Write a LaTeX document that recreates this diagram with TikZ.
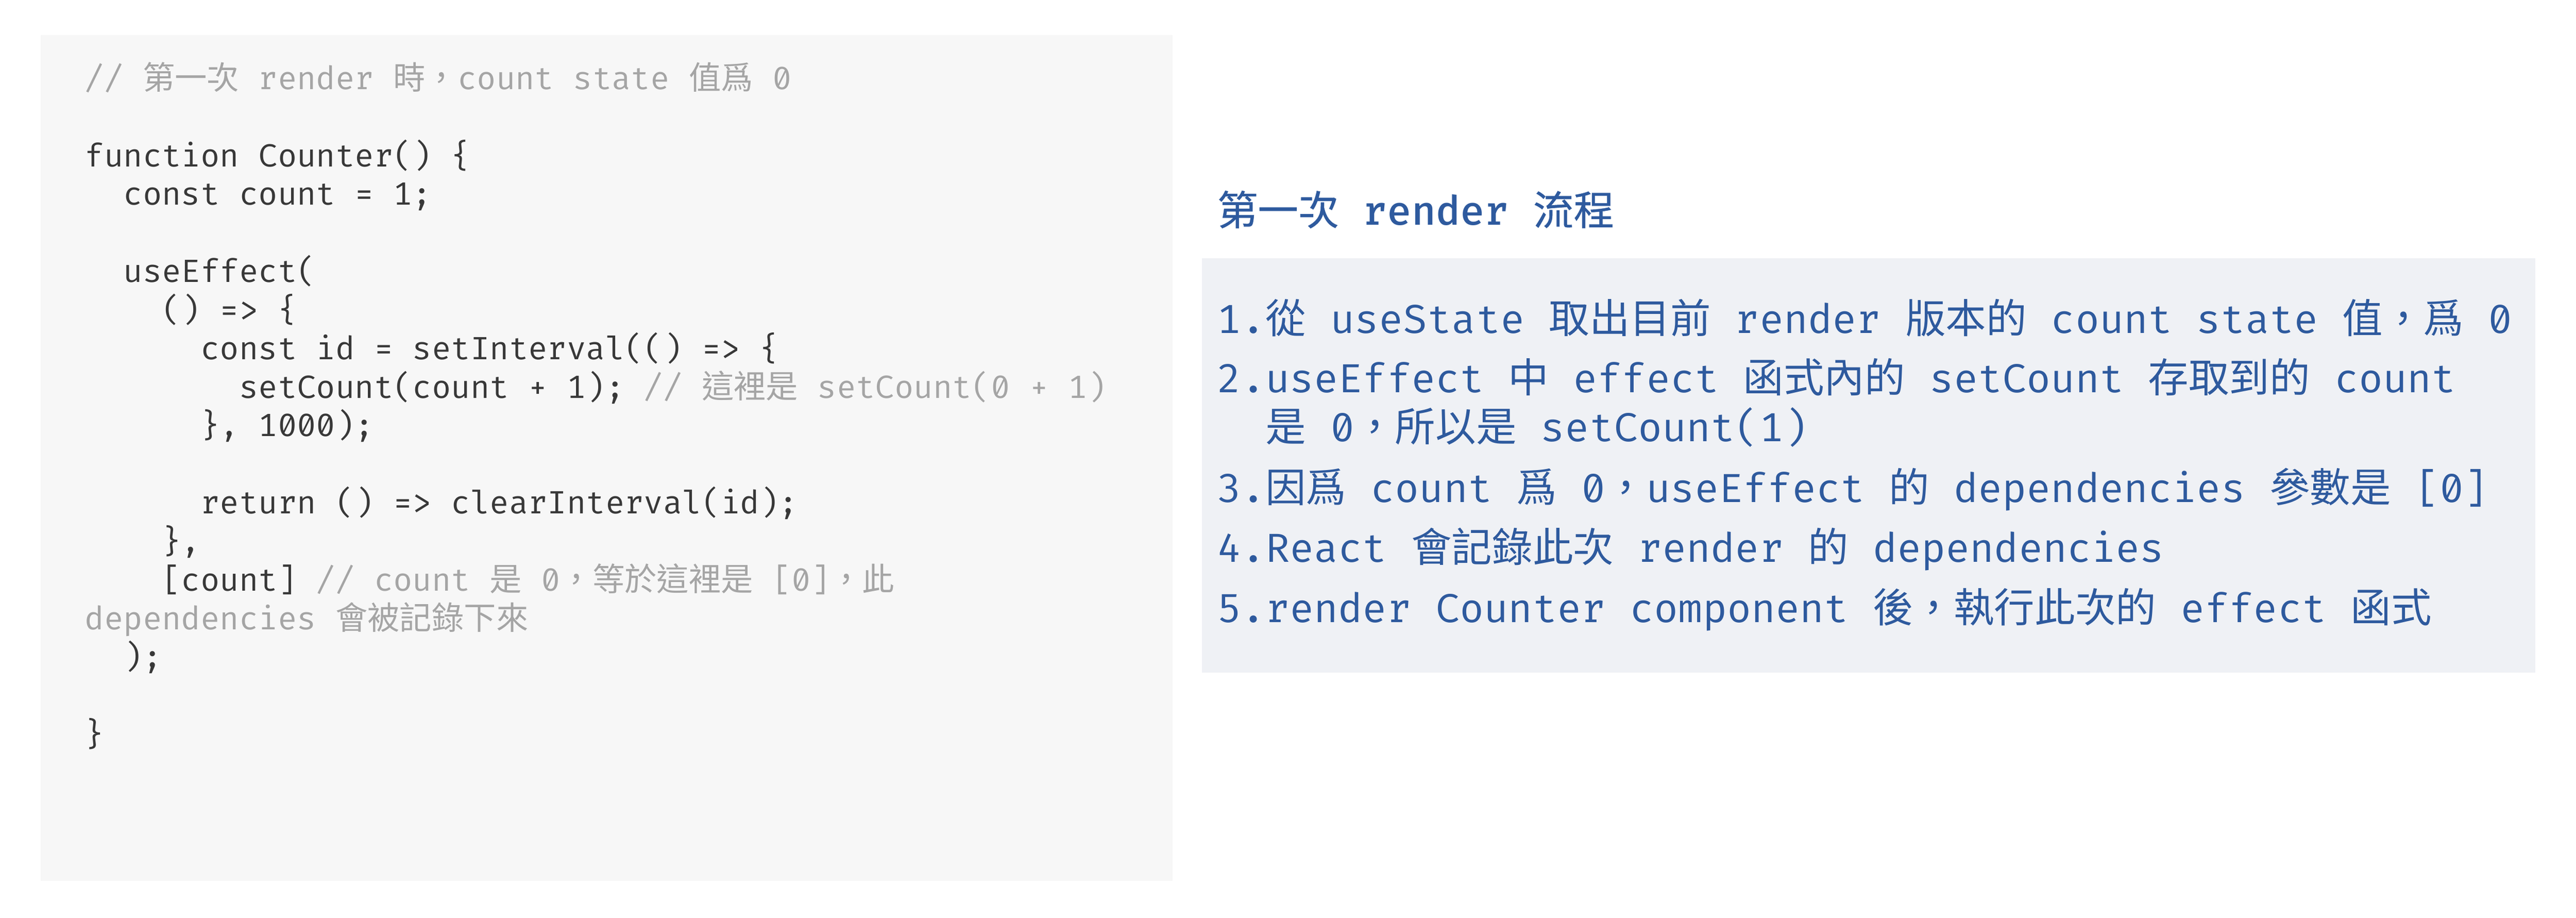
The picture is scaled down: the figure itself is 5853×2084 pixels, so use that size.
\documentclass[tikz,border=0pt]{standalone}
\usepackage{fontspec}
\newfontfamily\monof[RawFeature=+zero]{Fira Mono}
\newfontfamily\cjkf{Noto Sans CJK TC}
\newfontfamily\cjkbf[FakeBold=0.6]{Noto Sans CJK TC}
\newcommand\C[1]{{\cjkf #1}}
\newcommand\CB[1]{{\cjkbf #1}}
\definecolor{codebg}{HTML}{F7F7F7}
\definecolor{listbg}{HTML}{EFF1F5}
\definecolor{codefg}{HTML}{383838}
\definecolor{cmt}{HTML}{A5A5A5}
\definecolor{blu}{HTML}{2E5A9E}
\tikzset{
  codeline/.style={anchor=base west, inner sep=0pt, outer sep=0pt, text=codefg,
    font=\monof\fontsize{7.3}{8.76}\selectfont},
  cmtline/.style={codeline, text=cmt},
  listline/.style={anchor=base west, inner sep=0pt, outer sep=0pt, text=blu,
    font=\monof\fontsize{9.2}{11}\selectfont},
  titleline/.style={listline}
}
\begin{document}
\begin{tikzpicture}[x=0.1pt,y=-0.1pt]
\useasboundingbox (0,0) rectangle (5853,2084);
% panels
\fill[codebg] (93,80) rectangle (2664,2001);
\fill[listbg] (2731,586) rectangle (5761,1528);

% code
\node[cmtline]  (c0)  at (193,203)    {// \C{第一次} render \C{時，}count state \C{值爲} 0};
\node[codeline] (c2)  at (193,378.2)  {function Counter() \{};
\node[codeline] (c3)  at (280.6,465.8) {const count = 1;};
\node[codeline] (c5)  at (280.6,641)  {useEffect(};
\node[codeline] (c6)  at (368.2,728.6) {() => \{};
\node[codeline] (c7)  at (455.8,816.2) {const id = setInterval(() => \{};
\node[codeline] (c8)  at (543.4,903.8) {setCount(count + 1); \textcolor{cmt}{// \C{這裡是} setCount(0 + 1)}};
\node[codeline] (c9)  at (455.8,991.4) {\}, 1000);};
\node[codeline] (c11) at (455.8,1166.6) {return () => clearInterval(id);};
\node[codeline] (c12) at (368.2,1254.2) {\},};
\node[codeline] (c13) at (368.2,1341.8) {[count] \textcolor{cmt}{// count \C{是} 0\C{，等於這裡是} [0]\C{，此}}};
\node[cmtline]  (c14) at (193,1429.4) {dependencies \C{會被記錄下來}};
\node[codeline] (c15) at (280.6,1517) {);};
\node[codeline] (c17) at (193,1692.2) {\}};

% title
\node[titleline] (title) at (2766,511) {\CB{第一次} \textbf{render} \CB{流程}};

% list
\node[listline] (l1)  at (2765,757)  {1.\C{從} useState \C{取出目前} render \C{版本的} count state \C{值，爲} 0};
\node[listline] (l2)  at (2765,892)  {2.useEffect \C{中} effect \C{函式內的} setCount \C{存取到的} count};
\node[listline] (l2b) at (2765,1003) {\hphantom{2.}\C{是} 0\C{，所以是} setCount(1)};
\node[listline] (l3)  at (2765,1141) {3.\C{因爲} count \C{爲} 0\C{，}useEffect \C{的} dependencies \C{參數是} [0]};
\node[listline] (l4)  at (2765,1277) {4.React \C{會記錄此次} render \C{的} dependencies};
\node[listline] (l5)  at (2765,1414) {5.render Counter component \C{後，執行此次的} effect \C{函式}};
\end{tikzpicture}
\end{document}
